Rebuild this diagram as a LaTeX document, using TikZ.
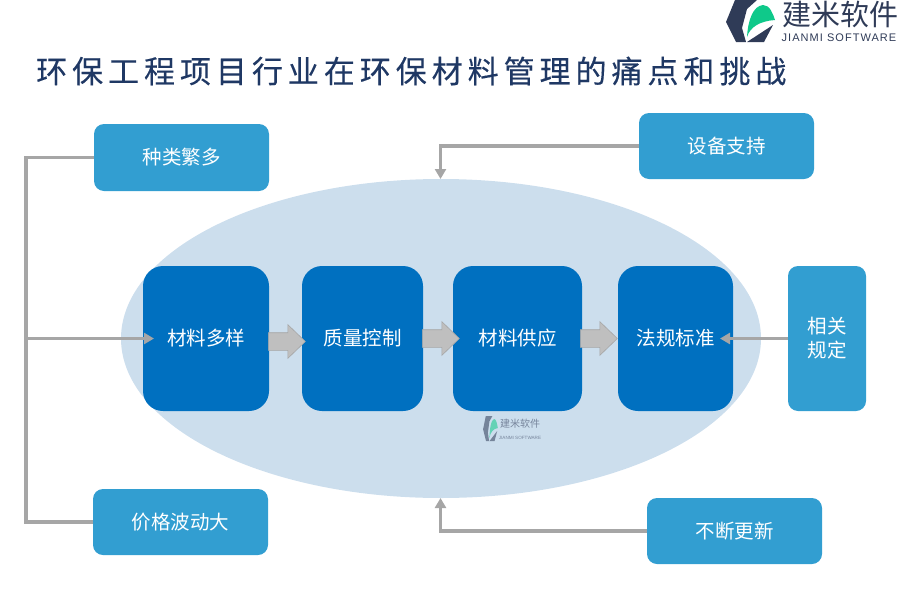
\documentclass[tikz,border=0pt]{standalone}
\usepackage{fontspec}
\setmainfont{Noto Sans CJK SC}
\newfontfamily\latinfont{Liberation Sans}
\newfontfamily\titlefont[LetterSpace=16,FakeBold=0.3]{Noto Sans CJK SC}
\newfontfamily\brandfont[LetterSpace=9.5]{Liberation Sans}
\usetikzlibrary{arrows.meta,shapes.geometric,shapes.arrows,calc}
\definecolor{ellipsefill}{HTML}{CCDEED}
\definecolor{mainblue}{HTML}{0070C0}
\definecolor{sideblue}{HTML}{329ED1}
\definecolor{linegray}{HTML}{A6A6A6}
\definecolor{arrowgray}{HTML}{BFBFBF}
\definecolor{titlenavy}{HTML}{1F3864}
\definecolor{logonavy}{HTML}{2F3B57}
\definecolor{logogreen}{HTML}{0FC98A}
\tikzset{
  x=1pt,y=-1pt,
  boxtext/.style={text=white,font=\fontsize{19.5}{24}\selectfont,align=center,inner sep=0pt},
  mainbox/.style={boxtext,fill=mainblue,rounded corners=20pt,minimum height=145pt},
  sidebox/.style={boxtext,fill=sideblue,rounded corners=10pt},
  conn/.style={draw=linegray,line width=3.4pt},
  connarrow/.style={conn,-{Triangle[length=10pt,width=11pt]}},
  blockarrow/.style={single arrow,draw=linegray,line width=0.6pt,fill=arrowgray,minimum height=37pt,
     single arrow head extend=8pt,single arrow tip angle=88,inner sep=0pt,anchor=tail},
}
\newcommand{\bodyrule}{\rule{0pt}{17pt}}
\newcommand{\brandmark}[1]{%
  \fill[logonavy,opacity=#1] (6,22) -- (15,0) -- (37,0) -- (27,9) -- (22,28) -- (26,42) -- (16,42) -- cycle;
  \fill[logonavy,opacity=#1] (27,42) -- (53,25) -- (44,42) -- cycle;
  \fill[logogreen,opacity=#1] (27,37) .. controls (28,20) and (33,6) .. (43,5) .. controls (50,5) and (53,14) .. (55,20) .. controls (40,21) and (30,27) .. (27,37) -- cycle;
}
\begin{document}
\begin{tikzpicture}
\useasboundingbox (0,0) rectangle (900,600);
\node[ellipse,fill=ellipsefill,minimum width=640pt,minimum height=319pt,inner sep=0pt] (oval) at (441,338.5) {};

% logo
\begin{scope}[shift={(720,0)}]
\brandmark{1}
\end{scope}
\node[text=logonavy,font=\fontsize{29}{32}\selectfont,inner sep=0pt] (brandcn) at (840,14) {建米软件};
\node[text=logonavy,font=\brandfont\fontsize{11}{13}\selectfont,inner sep=0pt] (branden) at (839,38) {JIANMI SOFTWARE};

% title
\node[text=titlenavy,font=\titlefont\fontsize{31}{36}\selectfont,anchor=west,inner sep=0pt] (title) at (36,71) {环保工程项目行业在环保材料管理的痛点和挑战};

% main boxes
\node[mainbox,minimum width=126pt] (m1) at (206,338.5) {材料多样};
\node[mainbox,minimum width=121pt] (m2) at (362.5,338.5) {质量控制};
\node[mainbox,minimum width=129pt] (m3) at (517.5,338.5) {材料供应};
\node[mainbox,minimum width=115pt] (m4) at (675.5,338.5) {法规标准};

% side boxes
\node[sidebox,minimum width=175pt,minimum height=67pt] (s1) at (181.5,157.5) {种类繁多};
\node[sidebox,minimum width=175pt,minimum height=66pt] (s2) at (726.5,146) {设备支持};
\node[sidebox,minimum width=175pt,minimum height=66pt] (s3) at (180.5,522) {价格波动大};
\node[sidebox,minimum width=175pt,minimum height=66pt] (s4) at (734.5,531) {不断更新};
\node[sidebox,minimum width=78pt,minimum height=145pt] (s5) at (827,338.5) {相关\\规定};

% block arrows
\node[blockarrow] (a1) at (268,341.5) {\bodyrule};
\node[blockarrow] (a2) at (422,338.5) {\bodyrule};
\node[blockarrow] (a3) at (580,338.5) {\bodyrule};

% connectors
\coordinate (bus) at (26,338.5);
\coordinate (m1tip) at (154,338.5);
\coordinate (m4tip) at (720,338.5);
\draw[conn] (s1.west) -- (26,157.5) -- (26,522) -- (s3.west);
\draw[connarrow] (bus) -- (m1tip);
\draw[connarrow] (s5.west) -- (m4tip);
\coordinate (ovaltop) at (440.5,179);
\coordinate (ovalbot) at (440.5,498);
\draw[connarrow] (s2.west) -- (ovaltop|-s2.west) -- (ovaltop);
\draw[connarrow] (s4.west) -- (ovalbot|-s4.west) -- (ovalbot);

% watermark
\begin{scope}[shift={(481.3,416)},x=0.3pt,y=-0.6pt]
\brandmark{0.55}
\end{scope}
\node[text=logonavy!55!ellipsefill,font=\fontsize{10}{12}\selectfont,inner sep=0pt] (wmcn) at (520,424) {建米软件};
\node[text=logonavy!55!ellipsefill,font=\latinfont\fontsize{4.6}{6}\selectfont,inner sep=0pt] (wmen) at (520,438) {JIANMI SOFTWARE};
\end{tikzpicture}
\end{document}
